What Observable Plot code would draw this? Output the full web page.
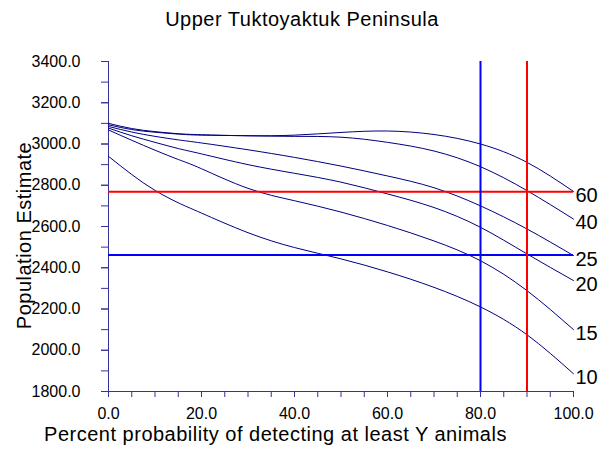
<!DOCTYPE html>
<html>
<head>
<meta charset="utf-8">
<script src="https://cdn.jsdelivr.net/npm/d3@7"></script>
<script src="https://cdn.jsdelivr.net/npm/@observablehq/plot@0.6"></script>
<style>
  html, body { margin: 0; padding: 0; background: white; }
</style>
</head>
<body>
<div id="chart"></div>
<script>
// Percent probability of detecting at least Y animals (x grid)
const probs = [0, 5, 10, 15, 20, 30, 40, 50, 60, 70, 80, 90, 100];
// Population estimate curves, one per Y value
const est60 = [3100, 3075, 3060, 3050, 3045, 3040, 3043, 3056, 3063, 3046, 3000, 2911, 2770];
const est40 = [3093, 3070, 3057, 3048, 3043, 3040, 3037, 3033, 3008, 2966, 2890, 2774, 2636];
const est25 = [3085, 3058, 3037, 3020, 3005, 2972, 2935, 2893, 2845, 2788, 2700, 2588, 2459];
const est20 = [3077, 3040, 3008, 2978, 2952, 2900, 2858, 2815, 2758, 2692, 2596, 2467, 2338];
const est15 = [3068, 3018, 2970, 2925, 2880, 2785, 2725, 2670, 2605, 2530, 2434, 2289, 2100];
const est10 = [2940, 2852, 2775, 2715, 2665, 2570, 2498, 2443, 2380, 2305, 2210, 2075, 1886];
const seriesNames = ["60", "40", "25", "20", "15", "10"];
const seriesValues = [est60, est40, est25, est20, est15, est10];

// Reference lines
const redEstimate = 2769;
const blueEstimate = 2462;
const bluePercent = 80;
const redPercent = 90;

// Axis ticks
const xMajorTicks = [0, 20, 40, 60, 80, 100];
const xMinorTicks = d3.range(0, 101, 5);
const yMajorTicks = [1800, 2000, 2200, 2400, 2600, 2800, 3000, 3200, 3400];
const yMinorTicks = d3.range(1800, 3401, 100);

const titleText = "Upper Tuktoyaktuk Peninsula";
const xLabel = "Percent probability of detecting at least Y animals";
const yLabel = "Population Estimate";

const table = [];
seriesNames.forEach((s, i) => probs.forEach((p, j) => table.push({s, p, v: seriesValues[i][j]})));
const ends = seriesNames.map((s, i) => ({s, p: probs[probs.length - 1], v: seriesValues[i][probs.length - 1]}));

const axisColor = "#333399";

const chart = Plot.plot({
  width: 603,
  height: 452,
  marginLeft: 108,
  marginRight: 30,
  marginTop: 61,
  marginBottom: 61,
  x: {domain: [0, 100]},
  y: {domain: [1800, 3400]},
  style: {fontFamily: "'Liberation Sans', Arial, sans-serif", fontSize: "16px", color: "black", background: "white"},
  marks: [
    Plot.axisX({ticks: xMinorTicks, tickSize: 6, stroke: axisColor, text: null, label: null}),
    Plot.axisX({ticks: xMajorTicks, tickSize: 6, tickPadding: 10, stroke: axisColor, fill: "black", fontSize: 16,
      tickFormat: d => d.toFixed(1), label: null}),
    Plot.axisY({ticks: yMinorTicks, tickSize: 7, stroke: axisColor, text: null, label: null}),
    Plot.axisY({ticks: yMajorTicks, tickSize: 7, tickPadding: 21, stroke: axisColor, fill: "black", fontSize: 16,
      tickFormat: d => d.toFixed(1), label: null}),
    Plot.ruleX([0], {stroke: axisColor}),
    Plot.ruleY([1800], {stroke: axisColor}),
    Plot.line(table, {x: "p", y: "v", z: "s", stroke: "#000080", strokeWidth: 1, curve: "natural"}),
    Plot.ruleY([redEstimate], {stroke: "#ff0000", strokeWidth: 2}),
    Plot.ruleY([blueEstimate], {stroke: "#0000ff", strokeWidth: 2}),
    Plot.ruleX([bluePercent], {stroke: "#0000ff", strokeWidth: 2}),
    Plot.ruleX([redPercent], {stroke: "#ff0000", strokeWidth: 2}),
    Plot.text(ends, {x: "p", y: "v", text: "s", textAnchor: "start", dx: 2, dy: 4, fontSize: 20, fill: "black"}),
    Plot.text([titleText], {text: d => d, frameAnchor: "top-left", dx: 193.5, dy: -35.7, textAnchor: "middle", lineAnchor: "bottom", fontSize: 20, fill: "black"}),
    Plot.text([xLabel], {text: d => d, frameAnchor: "bottom-left", dx: 167, dy: 49, textAnchor: "middle", lineAnchor: "bottom", fontSize: 20, fill: "black"}),
    Plot.text([yLabel], {text: d => d, frameAnchor: "left", dx: -78, dy: 9, rotate: -90, textAnchor: "middle", lineAnchor: "bottom", fontSize: 20, fill: "black"})
  ]
});
d3.select(chart).selectAll("text")
  .filter(function () { return [titleText, xLabel, yLabel].includes(this.textContent); })
  .attr("letter-spacing", "0.5px");
document.getElementById("chart").appendChild(chart);
</script>
</body>
</html>
